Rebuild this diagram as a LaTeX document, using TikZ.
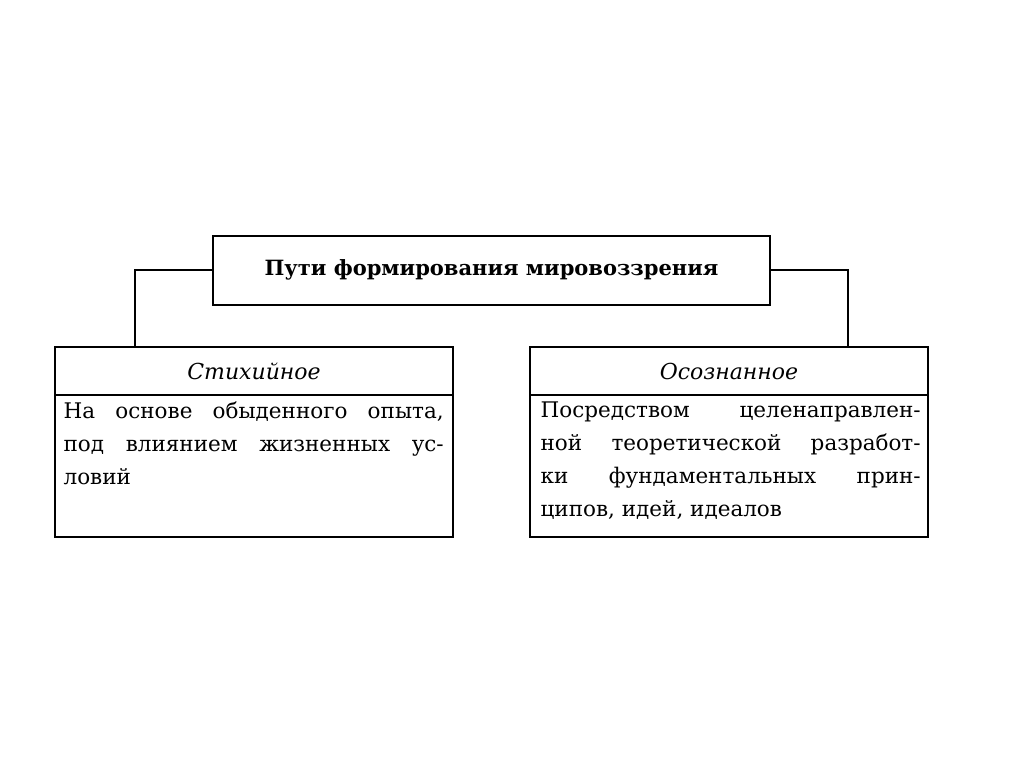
\documentclass[tikz,border=0pt]{standalone}
\usepackage{fontspec}
\setmainfont{DejaVu Serif}
\begin{document}
\begin{tikzpicture}[x=1pt,y=-1pt,line width=1.3pt,
 body/.style={anchor=north west,align=justify,text width=380pt,inner sep=0pt,font=\fontsize{21.5}{33}\selectfont}]
\useasboundingbox (0,0) rectangle (1024,767);
\draw (213,236) rectangle (770,305);
\node (top) at (491.5,270) {\fontsize{21}{24}\selectfont\bfseries Пути формирования мировоззрения};
\draw (55,347) rectangle (453,537); \draw (55,395) -- (453,395);
\draw (530,347) rectangle (928,537); \draw (530,395) -- (928,395);
\node (l) at (254,371) {\fontsize{22}{26}\selectfont\itshape Стихийное};
\node (r) at (729,371) {\fontsize{22}{26}\selectfont\itshape Осознанное};
\draw (213,270) -- (135,270) -- (135,347);
\draw (770,270) -- (848,270) -- (848,347);
\node[body] (lb) at (63,401) {На основе обыденного опыта,\linebreak под влиянием жизненных ус-\linebreak ловий};
\node[body] (rb) at (540,401) {Посредством целенаправлен-\linebreak ной теоретической разработ-\linebreak ки фундаментальных прин-\linebreak ципов, идей, идеалов};
\end{tikzpicture}
\end{document}
